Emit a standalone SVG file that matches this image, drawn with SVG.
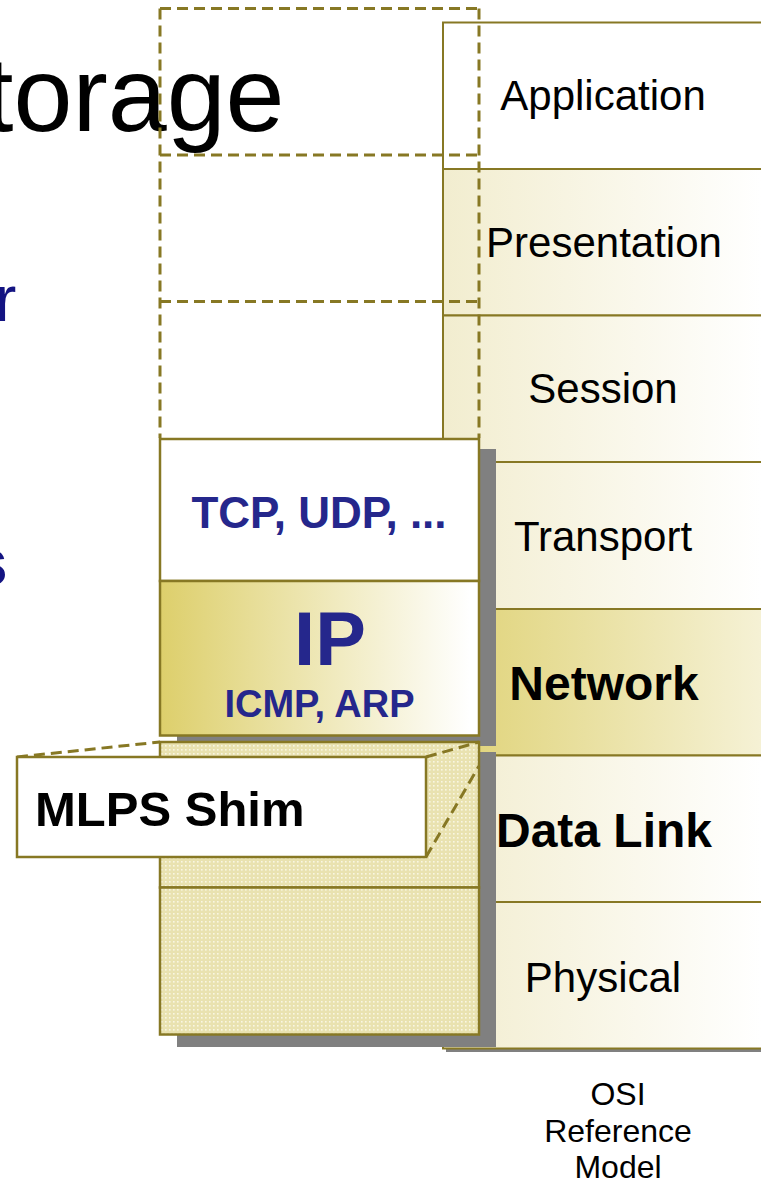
<svg xmlns="http://www.w3.org/2000/svg" width="761" height="1181" viewBox="0 0 761 1181">
  <style>
    .t { font-family: "Liberation Sans", Arial, sans-serif; }
    .reg { font-size: 42px; fill: #000; text-anchor: middle; }
    .regb { font-size: 48px; font-weight: bold; fill: #000; text-anchor: middle; }
    .bold { font-weight: bold; }
    .navy { fill: #25278C; }
    .row { stroke: #877824; stroke-width: 2; }
    .box { stroke: #877824; stroke-width: 2.5; }
    .dash { fill: none; stroke: #877824; stroke-width: 3; stroke-dasharray: 11 6; }
    .shadow { fill: #808080; }
  </style>
  <defs>
    <linearGradient id="gLight" gradientUnits="userSpaceOnUse" x1="443" y1="0" x2="761" y2="0">
      <stop offset="0" stop-color="#F2EDCF"/>
      <stop offset="1" stop-color="#FFFFFF"/>
    </linearGradient>
    <linearGradient id="gNet" gradientUnits="userSpaceOnUse" x1="443" y1="0" x2="900" y2="0">
      <stop offset="0" stop-color="#DFD275"/>
      <stop offset="1" stop-color="#FFFFFF"/>
    </linearGradient>
    <linearGradient id="gIP" gradientUnits="userSpaceOnUse" x1="160" y1="0" x2="470" y2="0">
      <stop offset="0" stop-color="#DDCF6B"/>
      <stop offset="1" stop-color="#FFFFFF"/>
    </linearGradient>
    <pattern id="dots" patternUnits="userSpaceOnUse" width="4" height="4">
      <rect width="4" height="4" fill="#E9E2B0"/>
      <rect x="1" y="1" width="1.6" height="1.6" fill="#F9F6E2"/>
    </pattern>
  </defs>

  <rect width="761" height="1181" fill="#FFFFFF"/>

  <g id="background-text">
    <text class="t" x="-16" y="131" font-size="106" fill="#000">torage</text>
    <text class="t" x="-5" y="321" font-size="64" fill="#141482">r</text>
    <text class="t bold" x="-29" y="585" font-size="66" fill="#141482">s</text>
  </g>

  <g id="osi-stack">
    <rect class="shadow" x="446" y="26" width="340" height="1026"/>
    <g id="osi-application"><rect class="row" x="443" y="22.5" width="340" height="146.5" fill="#FFFFFF"/>
      <text class="t reg" x="603" y="110">Application</text></g>
    <g id="osi-presentation"><rect class="row" x="443" y="169" width="340" height="146.5" fill="url(#gLight)"/>
      <text class="t reg" x="604" y="257">Presentation</text></g>
    <g id="osi-session"><rect class="row" x="443" y="315.5" width="340" height="146.5" fill="url(#gLight)"/>
      <text class="t reg" x="603" y="403">Session</text></g>
    <g id="osi-transport"><rect class="row" x="443" y="462" width="340" height="147" fill="url(#gLight)"/>
      <text class="t reg" x="603" y="551">Transport</text></g>
    <g id="osi-network"><rect class="row" x="443" y="609" width="340" height="146.5" fill="url(#gNet)"/>
      <text class="t regb" x="604" y="700">Network</text></g>
    <g id="osi-datalink"><rect class="row" x="443" y="755.5" width="340" height="146.5" fill="url(#gLight)"/>
      <text class="t regb" x="604" y="847">Data Link</text></g>
    <g id="osi-physical"><rect class="row" x="443" y="902" width="340" height="146.5" fill="url(#gLight)"/>
      <text class="t reg" x="603" y="992">Physical</text></g>
  </g>

  <g id="dashed-frames">
    <path class="dash" d="M160 8.5 H479 M160 155 H479 M160 301.5 H479"/>
    <path class="dash" d="M160 8.5 V438 M479 8.5 V438"/>
  </g>

  <g id="tcpip-stack">
    <rect class="shadow" x="177" y="449" width="319" height="297"/>
    <g id="tcp-udp"><rect class="box" x="160" y="439" width="319" height="142" fill="#FFFFFF"/>
      <text class="t bold navy" x="319" y="528" font-size="44" text-anchor="middle">TCP, UDP, ...</text></g>
    <g id="ip"><rect class="box" x="160" y="581" width="319" height="154.5" fill="url(#gIP)"/>
      <text class="t bold navy" x="330" y="665" font-size="76" text-anchor="middle">IP</text>
      <text class="t bold navy" x="319.5" y="717" font-size="38" text-anchor="middle">ICMP, ARP</text></g>
  </g>

  <g id="lower-stack">
    <rect class="shadow" x="177" y="752" width="319" height="295"/>
    <rect id="shim-layer" class="box" x="160" y="742" width="319" height="145.5" fill="url(#dots)"/>
    <rect id="link-layer" class="box" x="160" y="887.5" width="319" height="147" fill="url(#dots)"/>
  </g>

  <g id="connectors">
    <path class="dash" d="M17 757 L160 742"/>
    <path class="dash" d="M426 757 L479 742"/>
    <path class="dash" d="M426 857 L479 766"/>
  </g>

  <g id="mlps-shim-callout">
    <rect class="box" x="17" y="757" width="409" height="100" fill="#FFFFFF"/>
    <text class="t bold" x="35" y="826" font-size="49" fill="#000">MLPS Shim</text>
  </g>

  <g id="osi-caption">
    <text class="t" font-size="32" fill="#000" text-anchor="middle"><tspan x="618" y="1105">OSI</tspan><tspan x="618" y="1142">Reference</tspan><tspan x="618" y="1178">Model</tspan></text>
  </g>
</svg>
